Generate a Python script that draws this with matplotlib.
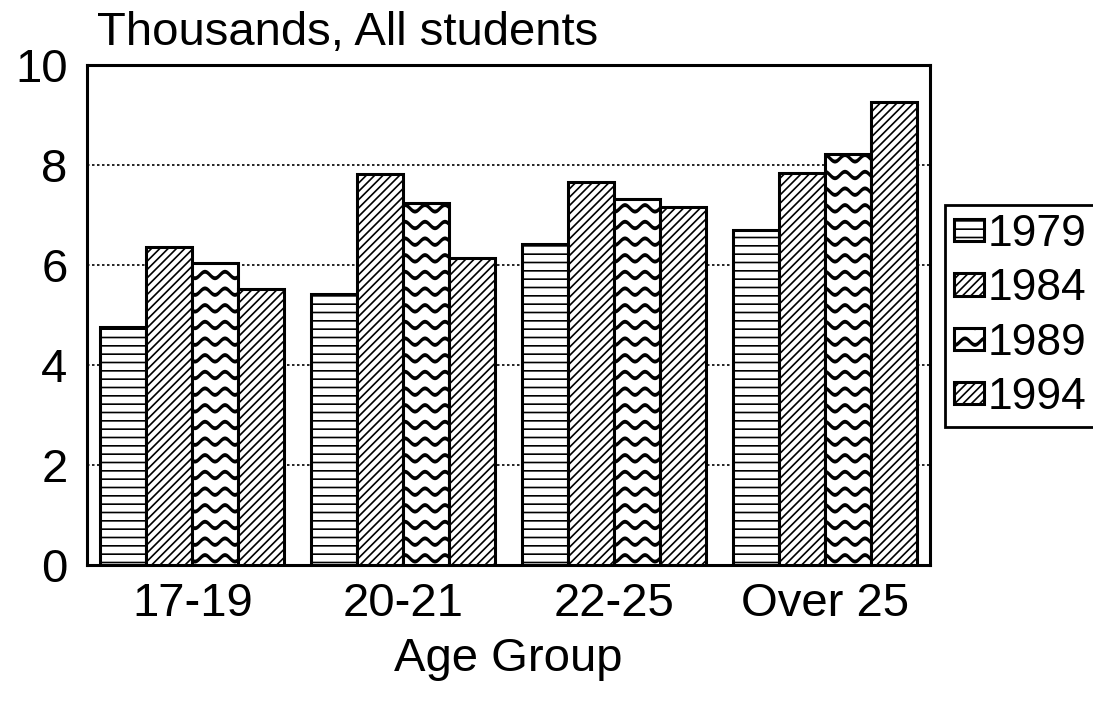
import numpy as np
import matplotlib
matplotlib.use('Agg')
import matplotlib.pyplot as plt
import matplotlib.hatch as mhatch
from matplotlib.path import Path

## data
groups = ['17-19', '20-21', '22-25', 'Over 25']
years = ['1979', '1984', '1989', '1994']
v1979 = [4.76, 5.42, 6.42, 6.70]
v1984 = [6.36, 7.82, 7.66, 7.84]
v1989 = [6.04, 7.24, 7.32, 8.22]
v1994 = [5.52, 6.14, 7.16, 9.26]


# custom wavy hatch ('~'), drawn as thin filled bands
class WavyHatch(mhatch.HatchPatternBase):
    def __init__(self, hatch, density):
        self.num_lines = int(hatch.count('~') * density)
        self.num_segs = 60
        self.num_vertices = self.num_lines * (2 * (self.num_segs + 1) + 1)

    def set_vertices_and_codes(self, vertices, codes):
        n = self.num_segs
        xs = np.linspace(0, 1, n + 1)
        amp = 0.033
        half = 0.011
        k = 0
        for i in range(self.num_lines):
            y0 = (i + 0.5) / self.num_lines
            ys = y0 + amp * np.sin(2 * np.pi * 5 * xs)
            pts = np.concatenate([np.column_stack([xs, ys + half]),
                                  np.column_stack([xs[::-1], ys[::-1] - half]),
                                  [[0, ys[0] + half]]])
            m = len(pts)
            vertices[k:k + m] = pts
            codes[k:k + m] = Path.LINETO
            codes[k] = Path.MOVETO
            codes[k + m - 1] = Path.CLOSEPOLY
            k += m


mhatch._hatch_types.append(WavyHatch)

plt.rcParams['font.family'] = ['Liberation Sans', 'DejaVu Sans']
plt.rcParams['hatch.linewidth'] = 1.2

fig = plt.figure(figsize=(10.93, 7.08), dpi=100)
ax = fig.add_axes([87 / 1093, 1 - 565 / 708, (930 - 87) / 1093, (565 - 65) / 708])

x = np.arange(len(groups))
width = 0.218
series = [v1979, v1984, v1989, v1994]
hatches = ['--', '////', '~', '////']
for i, (vals, h, yr) in enumerate(zip(series, hatches, years)):
    ax.bar(x + (i - 1.5) * width, vals, width, color='white', edgecolor='black',
           linewidth=2.2, hatch=h, label=yr, zorder=3)

ax.set_xlim(-0.5, 3.5)
ax.set_ylim(0, 10)
ax.set_yticks([0, 2, 4, 6, 8, 10])
ax.set_xticks(x)
ax.set_xticklabels(groups)
ax.tick_params(axis='both', labelsize=34, length=0, pad=14)
ax.tick_params(axis='x', pad=12)
ax.yaxis.grid(True, linestyle=(0, (1.5, 1.5)), color='black', linewidth=1.2, zorder=0)
for s in ax.spines.values():
    s.set_linewidth(2.2)

ax.set_xlabel('Age Group', fontsize=34, labelpad=8)
fig.text(97 / 1093, 1 - 45 / 708, 'Thousands, All students', fontsize=34, va='baseline', ha='left')

leg = ax.legend(loc='center left', bbox_to_anchor=(945 / 1093, 1 - 316 / 708),
                bbox_transform=fig.transFigure, fontsize=32, frameon=True, framealpha=1,
                fancybox=False, edgecolor='black', handlelength=0.68, handleheight=0.4,
                handletextpad=0.08, borderpad=0.2, labelspacing=0.3, borderaxespad=0)
leg.get_frame().set_linewidth(2)

fig.savefig('out.png', dpi=100)
